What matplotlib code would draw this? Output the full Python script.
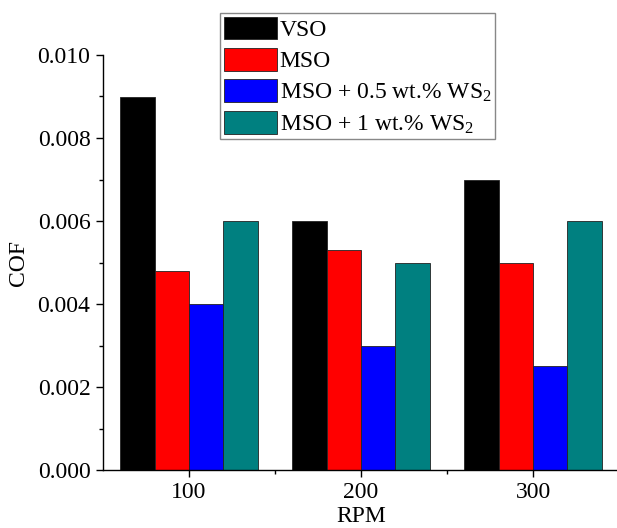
import matplotlib
matplotlib.use("Agg")
import matplotlib.pyplot as plt
import numpy as np
from matplotlib.ticker import MultipleLocator, FixedLocator

plt.rcParams['font.family'] = ['Liberation Serif', 'DejaVu Serif']
plt.rcParams['mathtext.fontset'] = 'custom'
plt.rcParams['mathtext.rm'] = 'Liberation Serif'
plt.rcParams['mathtext.it'] = 'Liberation Serif:italic'

rpm = [100, 200, 300]
series_names = ["VSO", "MSO", "MSO + 0.5 wt.% WS$_2$", "MSO + 1 wt.% WS$_2$"]
vso = [0.009, 0.006, 0.007]
mso = [0.0048, 0.0053, 0.005]
mso_05 = [0.004, 0.003, 0.0025]
mso_1 = [0.006, 0.005, 0.006]
colors = ["#000000", "#FF0000", "#0000FF", "#008080"]

fig = plt.figure(figsize=(6.17, 5.28), dpi=100)
ax = fig.add_axes([103/617, (528-470)/528, 516/617, 415/528])

width = 20
offsets = [-30, -10, 10, 30]
x = np.array(rpm, dtype=float)
handles = []
for vals, off, c, name in zip([vso, mso, mso_05, mso_1], offsets, colors, series_names):
    h = ax.bar(x + off, vals, width=width, color=c, edgecolor="#222222", linewidth=0.6, label=name)
    handles.append(h)

ax.set_xlim(50, 350)
ax.set_ylim(0, 0.010)
ax.spines['top'].set_visible(False)
ax.spines['right'].set_visible(False)
for s in ['left', 'bottom']:
    ax.spines[s].set_linewidth(1.0)

ax.set_xticks(rpm)
ax.xaxis.set_minor_locator(FixedLocator([150, 250]))
ax.yaxis.set_major_locator(MultipleLocator(0.002))
ax.yaxis.set_minor_locator(MultipleLocator(0.001))
ax.yaxis.set_major_formatter(matplotlib.ticker.FormatStrFormatter('%.3f'))
ax.tick_params(axis='both', which='major', direction='out', length=5, width=1, labelsize=17, pad=4)
ax.tick_params(axis='both', which='minor', direction='out', length=3, width=1)

ax.set_xlabel("RPM", fontsize=17, labelpad=1.5)
ax.set_ylabel("COF", fontsize=17, labelpad=6)

leg = fig.legend(handles=handles, labels=series_names, loc='upper left',
                 bbox_to_anchor=(220/617, 1 - 13/528), bbox_transform=fig.transFigure,
                 fontsize=17, frameon=True, fancybox=False, framealpha=1,
                 edgecolor="#888888", handlelength=2.25, handleheight=1.1,
                 handletextpad=0.12, labelspacing=0.3, borderpad=0.15, borderaxespad=0)
leg.get_frame().set_linewidth(1.0)

fig.savefig("out.png", dpi=100)
